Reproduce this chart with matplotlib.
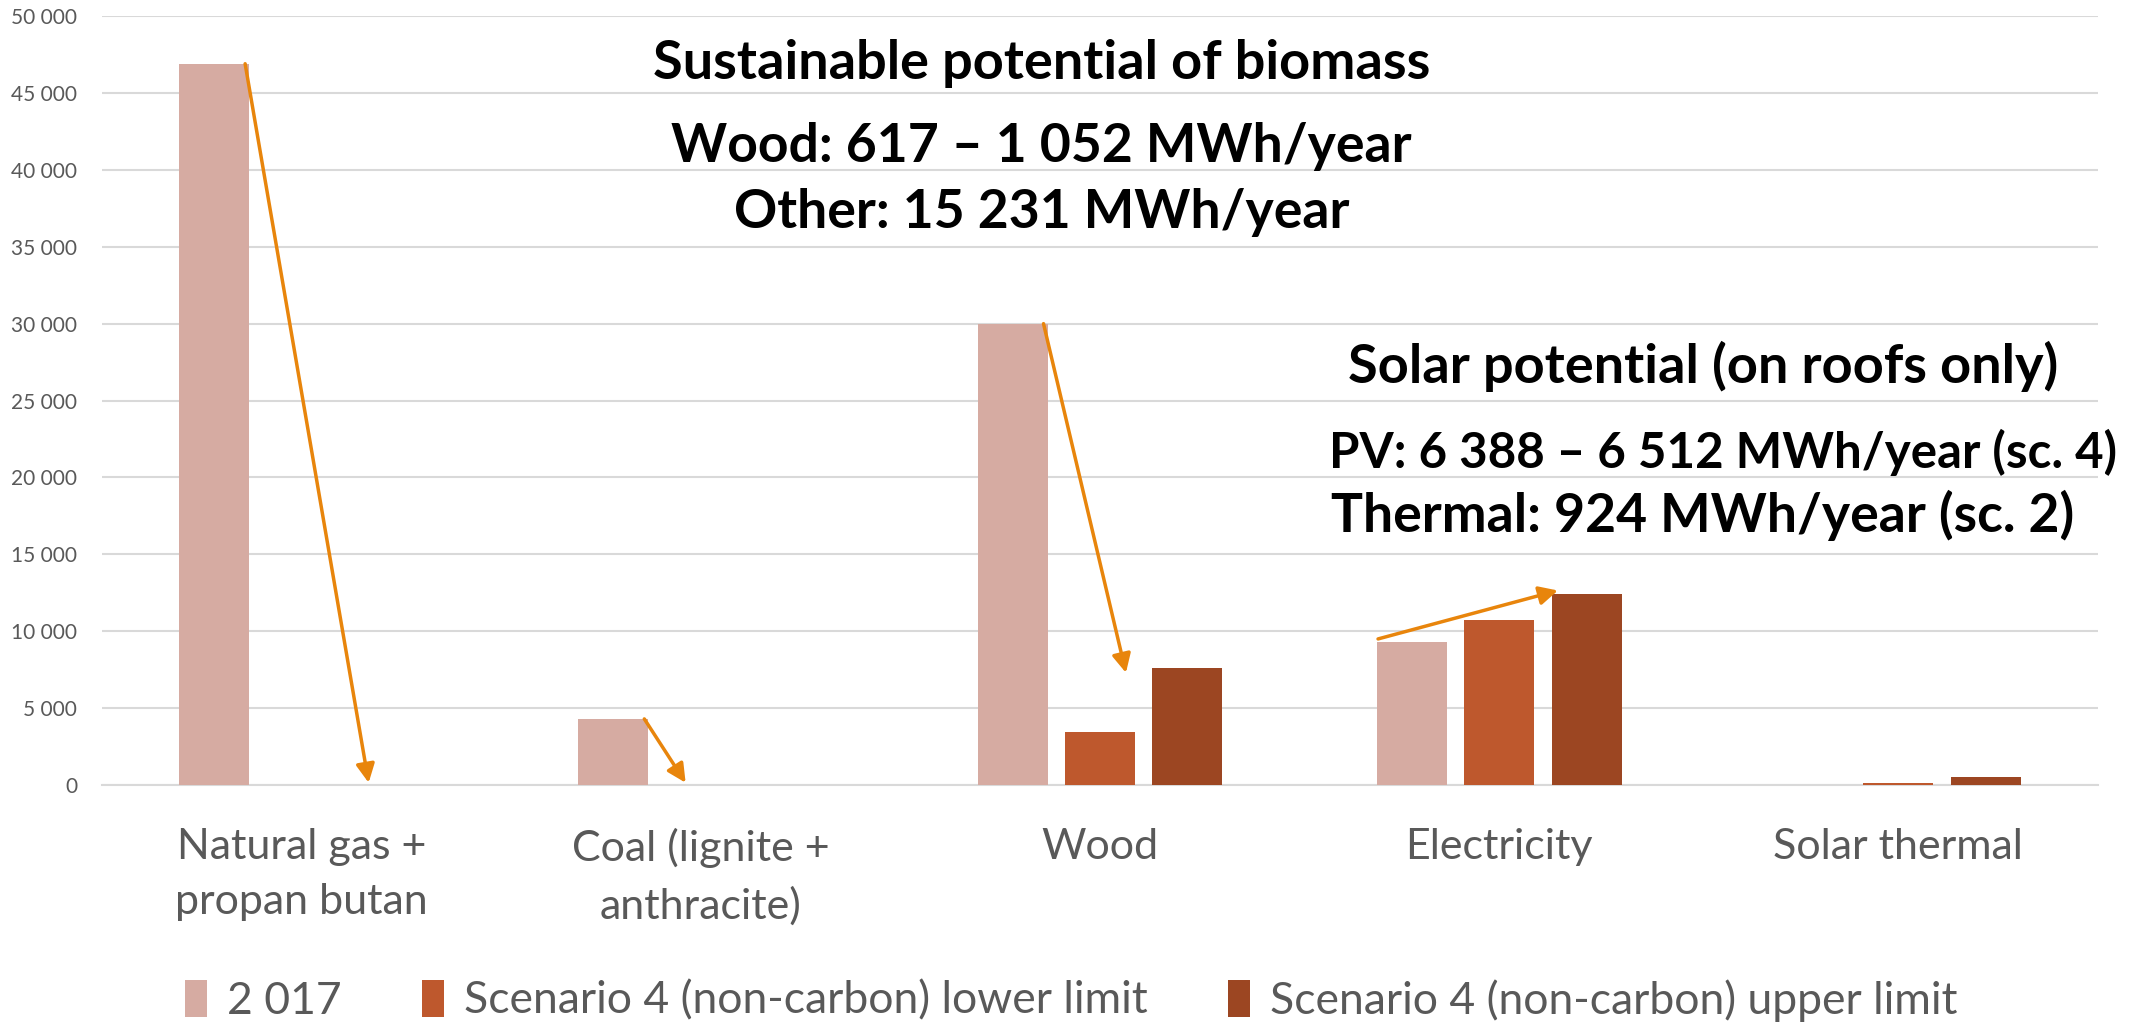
import matplotlib.pyplot as plt
import numpy as np
from matplotlib.ticker import FuncFormatter, MultipleLocator

plt.rcParams['font.family'] = ['Lato', 'DejaVu Sans']

categories = ['Natural gas +\npropan butan', 'Coal (lignite +\nanthracite)', 'Wood',
              'Electricity', 'Solar thermal']
series_names = ['2 017', 'Scenario 4 (non-carbon) lower limit',
                'Scenario 4 (non-carbon) upper limit']
values_2017 = [46900, 4300, 30000, 9300, 20]
values_lower = [0, 0, 3450, 10700, 150]
values_upper = [0, 0, 7600, 12400, 520]
colors = ['#D6ABA2', '#BE582D', '#9C4622']

# arrows: (category, start value, end value)
arrow_targets = [(0, 46900, 150), (1, 4300, 150), (2, 30000, 7300), (3, 9500, 12650)]

if __name__ == '__main__':
    fig = plt.figure(figsize=(21.43, 10.23), dpi=100)
    ax = fig.add_axes([0.0476, 0.2326, 0.9314, 0.7517])

    x = np.arange(len(categories))
    w = 0.175
    step = 0.219
    for i, vals in enumerate([values_2017, values_lower, values_upper]):
        ax.bar(x + (i - 1) * step, vals, width=w, color=colors[i], label=series_names[i], zorder=3)

    ax.set_xlim(-0.5, len(categories) - 0.5)
    ax.set_ylim(0, 50000)
    ax.yaxis.set_major_locator(MultipleLocator(5000))
    ax.yaxis.set_major_formatter(FuncFormatter(lambda v, p: f'{int(v):,}'.replace(',', ' ')))
    ax.grid(axis='y', color='#D9D9D9', linewidth=1.5, zorder=0)
    for s in ['top', 'right', 'left']:
        ax.spines[s].set_visible(False)
    ax.spines['bottom'].set_color('#D9D9D9')
    ax.spines['bottom'].set_linewidth(1.5)
    ax.tick_params(axis='y', length=0, pad=18, labelsize=15, labelcolor='#595959')
    ax.tick_params(axis='x', length=0, pad=31, labelsize=31, labelcolor='#595959')
    ax.set_xticks(x)
    ax.set_xticklabels(categories, linespacing=1.55)

    # orange arrows from top of the 2017 bar
    for c, y0, y1 in arrow_targets:
        x0 = c - step + w / 2 - 0.01
        if c == 3:
            x0 = c - step - w / 2 + 0.003
            x1 = c + 0.147
        elif c == 2:
            x1 = c + 0.065
        elif c == 1:
            x1 = c - 0.038
        else:
            x1 = c + 0.168
        ax.annotate('', xy=(x1, y1), xytext=(x0, y0),
                    arrowprops=dict(arrowstyle='-|>', color='#E8850C', lw=2.5,
                                    mutation_scale=28, shrinkA=0, shrinkB=0), zorder=5)

    bold = dict(fontweight='bold', ha='center', va='center', color='black')
    ax.text(1.853, 46900, 'Sustainable potential of biomass', fontsize=39, **bold)
    ax.text(1.853, 41500, 'Wood: 617 – 1 052 MWh/year', fontsize=38.5, **bold)
    ax.text(1.853, 37250, 'Other: 15 231 MWh/year', fontsize=38.5, **bold)
    ax.text(3.51, 27200, 'Solar potential (on roofs only)', fontsize=39, **bold)
    ax.text(3.56, 21650, 'PV: 6 388 – 6 512 MWh/year (sc. 4)', fontsize=35.5, **bold)
    ax.text(3.51, 17550, 'Thermal: 924 MWh/year (sc. 2)', fontsize=38.5, **bold)

    fig.legend(loc='center', bbox_to_anchor=(0.5, 0.022), ncol=3, frameon=False,
               fontsize=32, labelcolor='#595959', handlelength=0.5, handleheight=0.9,
               handletextpad=0.45, columnspacing=1.8)

    fig.savefig('out.png', dpi=100)
